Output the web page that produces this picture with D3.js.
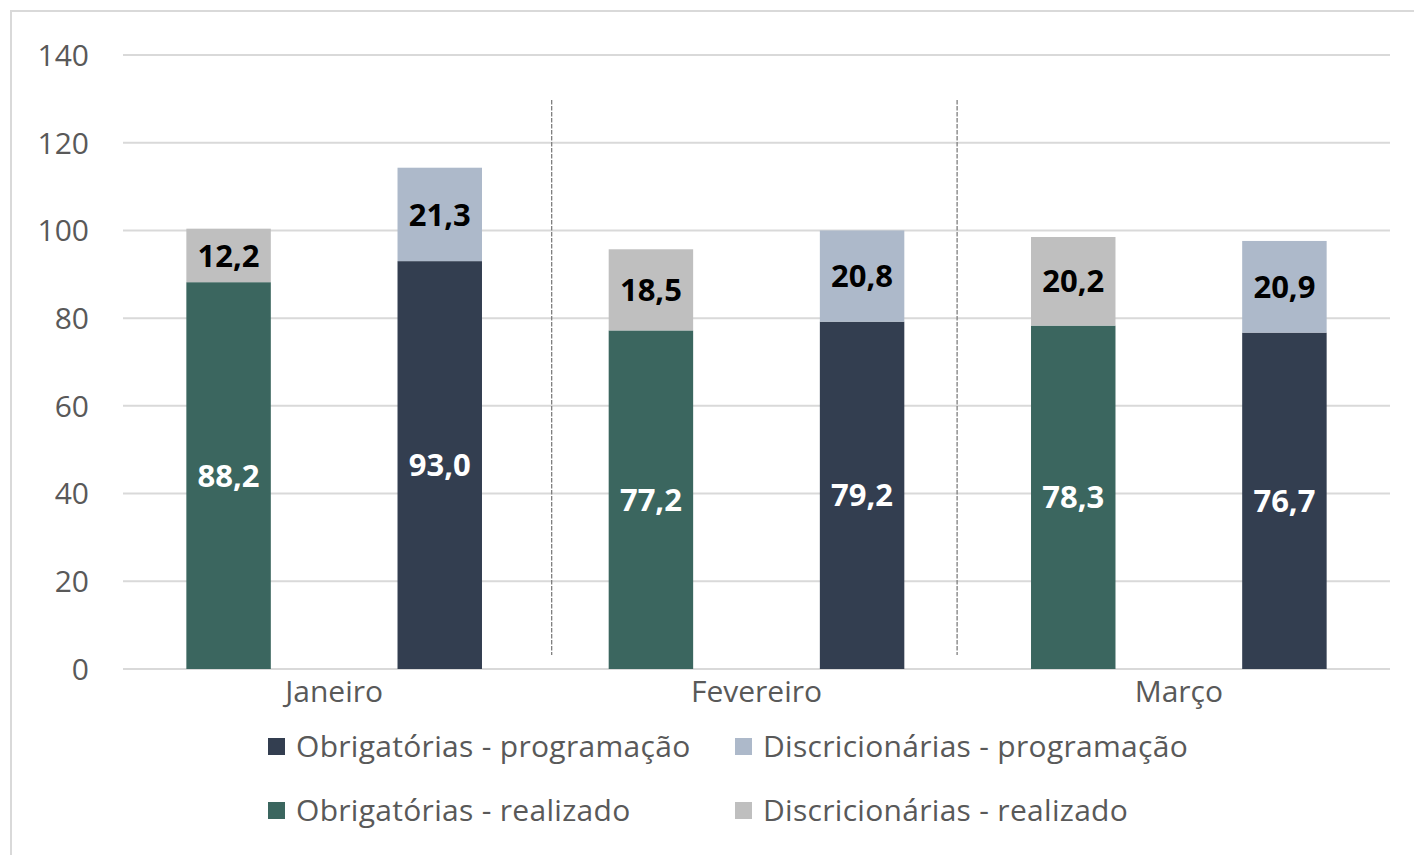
<!DOCTYPE html>
<html>
<head>
<meta charset="utf-8">
<script src="https://d3js.org/d3.v7.min.js"></script>
<style>
  body { margin: 0; background: #fff; }
  svg text { font-family: "Open Sans", Lato, sans-serif; }
</style>
</head>
<body>
<svg id="chart" width="1414" height="855"></svg>
<script>
const months = ['Janeiro', 'Fevereiro', 'Março'];
// each month has two stacks: realizado then programação
const obrigRealizado = [88.2, 77.2, 78.3];
const discrRealizado = [12.2, 18.5, 20.2];
const obrigProgramacao = [93.0, 79.2, 76.7];
const discrProgramacao = [21.3, 20.8, 20.9];
const yTicks = [0, 20, 40, 60, 80, 100, 120, 140];
const legendItems = [
  'Obrigatórias - programação', 'Discricionárias - programação',
  'Obrigatórias - realizado', 'Discricionárias - realizado'
];

const colors = {
  'Obrigatórias - realizado': '#3b665f',
  'Discricionárias - realizado': '#bfbfbf',
  'Obrigatórias - programação': '#333e50',
  'Discricionárias - programação': '#adb9ca'
};

const svg = d3.select('#chart');
const plotLeft = 123, plotRight = 1390, plotTop = 55, plotBottom = 669;

// chart area border
svg.append('rect')
  .attr('x', 11).attr('y', 11)
  .attr('width', 1420).attr('height', 860)
  .attr('fill', 'none')
  .attr('stroke', '#d9d9d9')
  .attr('stroke-width', 2);

const y = d3.scaleLinear().domain([0, 140]).range([plotBottom, plotTop]);

// one slot per stack, two per month
const slots = [];
months.forEach((m, i) => {
  slots.push({ month: m, kind: 'realizado', obrig: obrigRealizado[i], discr: discrRealizado[i] });
  slots.push({ month: m, kind: 'programação', obrig: obrigProgramacao[i], discr: discrProgramacao[i] });
});
const xSlot = d3.scaleBand()
  .domain(d3.range(slots.length))
  .range([plotLeft, plotRight])
  .paddingInner(0.6).paddingOuter(0.3);
const xMonth = d3.scaleBand().domain(months).range([plotLeft, plotRight]);

// gridlines
svg.append('g')
  .selectAll('line')
  .data(yTicks)
  .join('line')
  .attr('x1', plotLeft).attr('x2', plotRight)
  .attr('y1', d => y(d)).attr('y2', d => y(d))
  .attr('stroke', '#d9d9d9')
  .attr('stroke-width', 2);

// y tick labels
svg.append('g')
  .selectAll('text')
  .data(yTicks)
  .join('text')
  .attr('x', 89)
  .attr('y', d => y(d))
  .attr('dy', '0.36em')
  .attr('text-anchor', 'end')
  .attr('fill', '#595959')
  .style('font-size', '30px')
  .text(d => d);

// dashed separators between months (placed as drawn in the original)
const sepSlots = [2.03, 3.95];
const slotScale = d3.scaleLinear().domain([0, slots.length]).range([plotLeft, plotRight]);
svg.append('g')
  .selectAll('line')
  .data(sepSlots)
  .join('line')
  .attr('x1', d => slotScale(d)).attr('x2', d => slotScale(d))
  .attr('y1', 100).attr('y2', 655)
  .attr('stroke', '#7f7f7f')
  .attr('stroke-width', 1.3)
  .attr('stroke-dasharray', '4.5,1.5');

const fmt = v => d3.format('.1f')(v).replace('.', ',');

const bars = svg.append('g')
  .selectAll('g')
  .data(slots)
  .join('g');

bars.each(function(d, i) {
  const g = d3.select(this);
  const x = xSlot(i), w = xSlot.bandwidth();
  const obrigName = 'Obrigatórias - ' + d.kind;
  const discrName = 'Discricionárias - ' + d.kind;
  g.append('rect')
    .attr('x', x).attr('width', w)
    .attr('y', y(d.obrig)).attr('height', y(0) - y(d.obrig))
    .attr('fill', colors[obrigName]);
  g.append('rect')
    .attr('x', x).attr('width', w)
    .attr('y', y(d.obrig + d.discr)).attr('height', y(d.obrig) - y(d.obrig + d.discr))
    .attr('fill', colors[discrName]);
  g.append('text')
    .attr('x', x + w / 2)
    .attr('y', (y(0) + y(d.obrig)) / 2)
    .attr('dy', '0.36em')
    .attr('text-anchor', 'middle')
    .attr('fill', '#fff')
    .style('font-size', '31px')
    .style('font-weight', 'bold')
    .text(fmt(d.obrig));
  g.append('text')
    .attr('x', x + w / 2)
    .attr('y', (y(d.obrig) + y(d.obrig + d.discr)) / 2)
    .attr('dy', '0.36em')
    .attr('text-anchor', 'middle')
    .attr('fill', '#000')
    .style('font-size', '31px')
    .style('font-weight', 'bold')
    .text(fmt(d.discr));
});

// x axis labels
svg.append('g')
  .selectAll('text')
  .data(months)
  .join('text')
  .attr('x', d => xMonth(d) + xMonth.bandwidth() / 2)
  .attr('y', 691)
  .attr('dy', '0.36em')
  .attr('text-anchor', 'middle')
  .attr('fill', '#595959')
  .style('font-size', '30px')
  .text(d => d);

// legend, two columns x two rows
const legendX = [268, 735], legendY = [746, 810];
const legend = svg.append('g')
  .selectAll('g')
  .data(legendItems)
  .join('g')
  .attr('transform', (d, i) => `translate(${legendX[i % 2]},${legendY[Math.floor(i / 2)]})`);
legend.append('rect')
  .attr('x', 0).attr('y', -8)
  .attr('width', 17).attr('height', 17)
  .attr('fill', d => colors[d]);
legend.append('text')
  .attr('x', 28)
  .attr('y', 0)
  .attr('dy', '0.36em')
  .attr('fill', '#595959')
  .style('font-size', '30px')
  .style('letter-spacing', '0.3px')
  .text(d => d);
</script>
</body>
</html>
